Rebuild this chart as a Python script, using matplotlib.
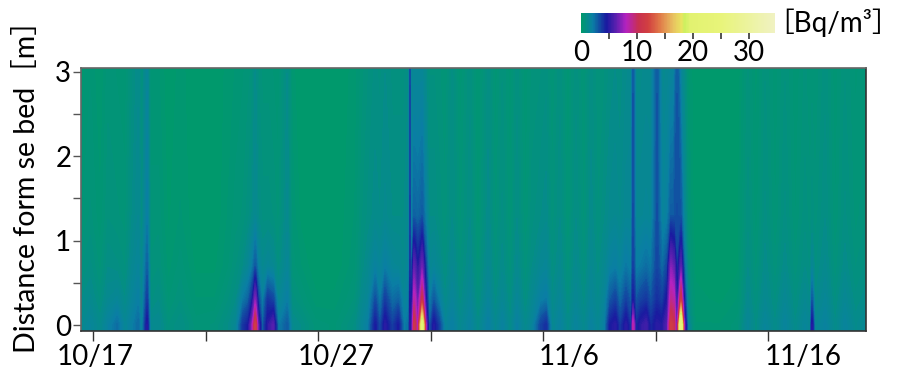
import numpy as np
import matplotlib
matplotlib.use('Agg')
import matplotlib.pyplot as plt
import matplotlib.dates as mdates
import pandas as pd
from matplotlib.colors import LinearSegmentedColormap, Normalize
from matplotlib.cm import ScalarMappable
from matplotlib.transforms import ScaledTranslation

FAM = ['Lato', 'Noto Sans CJK JP', 'DejaVu Sans']
plt.rcParams['font.family'] = FAM

# ---------------- data ----------------
times = [
    "2020-10-16 11:00", "2020-10-16 21:00", "2020-10-17 07:30", "2020-10-17 16:00", "2020-10-18 01:30",
    "2020-10-18 10:00", "2020-10-18 17:30", "2020-10-19 00:00", "2020-10-19 04:00", "2020-10-19 09:30",
    "2020-10-19 13:00", "2020-10-19 21:30", "2020-10-20 08:00", "2020-10-20 21:00", "2020-10-21 13:00",
    "2020-10-22 10:00", "2020-10-23 00:00", "2020-10-23 08:30", "2020-10-23 16:00", "2020-10-23 21:30",
    "2020-10-24 01:30", "2020-10-24 05:00", "2020-10-24 08:00", "2020-10-24 12:30", "2020-10-24 18:30",
    "2020-10-25 00:00", "2020-10-25 05:30", "2020-10-25 15:00", "2020-10-25 20:00", "2020-10-26 05:00",
    "2020-10-26 21:00", "2020-10-27 18:00", "2020-10-28 15:30", "2020-10-28 23:00", "2020-10-29 05:30",
    "2020-10-29 13:00", "2020-10-29 18:00", "2020-10-29 23:30", "2020-10-30 07:00", "2020-10-30 13:30",
    "2020-10-30 19:30", "2020-10-31 01:00", "2020-10-31 02:00", "2020-10-31 03:00", "2020-10-31 06:30",
    "2020-10-31 10:30", "2020-10-31 15:00", "2020-10-31 19:00", "2020-10-31 22:30", "2020-11-01 03:30",
    "2020-11-01 09:00", "2020-11-01 15:30", "2020-11-01 23:00", "2020-11-02 07:30", "2020-11-02 18:00",
    "2020-11-03 02:30", "2020-11-03 13:30", "2020-11-03 21:00", "2020-11-04 04:30", "2020-11-04 13:00",
    "2020-11-04 20:00", "2020-11-05 05:00", "2020-11-05 12:30", "2020-11-05 22:00", "2020-11-06 03:00",
    "2020-11-06 09:30", "2020-11-06 18:00", "2020-11-07 02:30", "2020-11-07 11:00", "2020-11-07 19:30",
    "2020-11-08 03:00", "2020-11-08 10:30", "2020-11-08 18:00", "2020-11-08 23:30", "2020-11-09 05:00",
    "2020-11-09 10:00", "2020-11-09 16:30", "2020-11-09 22:00", "2020-11-10 00:00", "2020-11-10 03:00",
    "2020-11-10 08:30", "2020-11-10 14:00", "2020-11-10 19:00", "2020-11-11 01:30", "2020-11-11 07:00",
    "2020-11-11 12:30", "2020-11-11 16:30", "2020-11-11 19:30", "2020-11-11 23:00", "2020-11-12 03:00",
    "2020-11-12 06:30", "2020-11-12 10:30", "2020-11-12 18:00", "2020-11-13 21:00", "2020-11-14 16:00",
    "2020-11-15 02:30", "2020-11-15 11:00", "2020-11-15 21:00", "2020-11-16 07:30", "2020-11-16 18:00",
    "2020-11-17 05:00", "2020-11-17 15:30", "2020-11-17 21:00", "2020-11-17 23:00", "2020-11-18 02:00",
    "2020-11-18 13:00", "2020-11-18 23:30", "2020-11-19 10:00", "2020-11-19 21:00", "2020-11-20 08:30",
]

heights_m = [0.0, 0.3, 0.7, 1.3, 3.1]

conc_0m = [
    1.2, 1.6, 1.1, 1.8, 2.5, 1.4, 2.0, 2.6, 1.5, 4.8,
    1.2, 1.3, 0.7, 1.0, 0.5, 0.6, 1.0, 1.4, 3.8, 4.5,
    7.0, 11.5, 6.0, 2.5, 5.0, 6.0, 2.0, 3.0, 1.2, 1.0,
    0.5, 0.4, 0.9, 1.5, 2.0, 4.5, 3.0, 5.0, 3.5, 4.5,
    2.0, 2.5, 5.0, 3.0, 11.0, 7.0, 21.0, 7.0, 2.5, 4.8,
    3.5, 1.5, 2.0, 1.2, 1.8, 1.0, 2.0, 1.2, 1.8, 1.0,
    1.9, 1.1, 1.6, 3.5, 4.0, 1.2, 1.8, 1.0, 1.7, 1.1,
    1.8, 1.3, 2.0, 4.5, 5.0, 3.5, 5.0, 3.5, 8.5, 4.0,
    5.0, 5.5, 4.0, 5.0, 4.8, 6.0, 11.5, 10.5, 5.0, 24.0,
    6.5, 1.5, 0.3, 0.3, 0.5, 1.5, 0.9, 1.6, 1.0, 1.7,
    1.0, 1.6, 1.3, 4.8, 1.3, 1.8, 1.0, 1.7, 1.1, 1.4,
]
conc_03m = [
    1.0, 1.2, 0.8, 1.3, 1.5, 1.0, 1.6, 2.0, 1.2, 3.6,
    0.8, 1.0, 0.4, 0.7, 0.3, 0.3, 0.7, 1.0, 2.2, 2.8,
    4.0, 7.0, 3.5, 1.8, 3.8, 3.4, 1.3, 2.0, 0.8, 0.6,
    0.2, 0.2, 0.6, 1.2, 1.5, 3.2, 2.0, 3.6, 2.5, 2.8,
    1.5, 2.0, 4.5, 2.5, 8.5, 6.0, 10.5, 4.5, 1.8, 3.0,
    2.0, 1.0, 1.6, 0.9, 1.5, 0.7, 1.6, 0.9, 1.4, 0.8,
    1.5, 0.8, 1.3, 2.0, 2.2, 1.0, 1.5, 0.8, 1.4, 0.9,
    1.5, 1.1, 1.6, 3.0, 3.5, 2.5, 3.5, 2.8, 4.5, 3.0,
    3.5, 3.8, 3.0, 4.0, 3.5, 4.8, 9.0, 8.5, 4.0, 11.0,
    4.0, 1.0, 0.2, 0.1, 0.3, 1.2, 0.7, 1.3, 0.8, 1.4,
    0.8, 1.3, 1.0, 3.0, 1.0, 1.5, 0.8, 1.4, 0.9, 1.1,
]
conc_07m = [
    0.7, 0.9, 0.5, 1.0, 0.9, 0.7, 1.3, 1.6, 1.0, 2.8,
    0.6, 0.7, 0.2, 0.5, 0.1, 0.1, 0.4, 0.7, 1.0, 1.4,
    2.0, 3.0, 1.8, 1.2, 1.5, 1.3, 0.8, 1.5, 0.5, 0.3,
    0.0, 0.0, 0.4, 0.9, 1.2, 1.8, 1.5, 2.0, 1.5, 1.4,
    1.2, 1.6, 3.8, 1.8, 6.2, 4.5, 6.5, 3.2, 1.3, 1.5,
    1.2, 0.8, 1.3, 0.7, 1.2, 0.5, 1.3, 0.7, 1.1, 0.6,
    1.2, 0.6, 1.0, 1.4, 1.5, 0.8, 1.2, 0.6, 1.2, 0.7,
    1.3, 0.9, 1.3, 1.8, 2.0, 1.6, 2.2, 1.9, 3.5, 2.0,
    2.2, 2.5, 2.2, 3.4, 2.5, 3.4, 7.0, 6.2, 3.4, 6.0,
    2.5, 0.7, 0.1, 0.0, 0.1, 1.0, 0.5, 1.1, 0.6, 1.1,
    0.6, 1.0, 0.8, 1.4, 0.8, 1.2, 0.6, 1.1, 0.7, 0.9,
]
conc_13m = [
    0.4, 0.6, 0.3, 0.7, 0.6, 0.5, 1.0, 1.3, 0.8, 2.0,
    0.5, 0.5, 0.1, 0.3, 0.0, 0.0, 0.3, 0.5, 0.6, 0.8,
    1.0, 1.3, 1.0, 0.8, 0.8, 0.7, 0.5, 1.2, 0.4, 0.1,
    0.0, 0.0, 0.3, 0.7, 0.9, 1.1, 1.0, 1.2, 1.0, 1.0,
    1.0, 1.3, 3.5, 1.5, 2.8, 2.6, 3.0, 1.8, 1.0, 1.0,
    0.8, 0.6, 1.0, 0.5, 1.0, 0.3, 1.1, 0.5, 0.9, 0.4,
    1.0, 0.4, 0.8, 1.0, 1.1, 0.6, 1.0, 0.4, 1.0, 0.5,
    1.1, 0.7, 1.0, 1.2, 1.3, 1.1, 1.4, 1.4, 3.2, 1.4,
    1.4, 1.5, 1.4, 3.2, 1.6, 1.9, 3.0, 3.0, 3.2, 3.0,
    1.4, 0.5, 0.0, 0.0, 0.1, 0.8, 0.3, 0.9, 0.4, 0.9,
    0.4, 0.8, 0.6, 0.8, 0.6, 1.0, 0.4, 0.9, 0.5, 0.7,
]
conc_31m = [
    0.2, 0.4, 0.1, 0.5, 0.4, 0.3, 0.8, 1.1, 0.6, 1.5,
    0.3, 0.3, 0.0, 0.2, 0.0, 0.0, 0.2, 0.3, 0.4, 0.5,
    0.6, 1.0, 0.7, 0.5, 0.5, 0.4, 0.3, 1.0, 0.2, 0.0,
    0.0, 0.0, 0.2, 0.5, 0.7, 0.9, 0.8, 1.0, 0.8, 0.8,
    0.8, 1.0, 3.3, 1.1, 1.4, 1.4, 1.4, 1.0, 0.7, 0.7,
    0.6, 0.4, 0.9, 0.3, 0.8, 0.2, 0.9, 0.3, 0.7, 0.3,
    0.8, 0.3, 0.6, 0.7, 0.8, 0.4, 0.8, 0.3, 0.8, 0.4,
    0.9, 0.6, 0.7, 0.9, 1.0, 0.9, 1.1, 1.2, 3.0, 1.1,
    1.1, 1.2, 1.2, 3.0, 1.2, 1.3, 1.5, 1.6, 3.0, 1.5,
    1.0, 0.3, 0.0, 0.0, 0.0, 0.6, 0.2, 0.7, 0.3, 0.7,
    0.3, 0.6, 0.4, 0.5, 0.4, 0.8, 0.3, 0.7, 0.4, 0.5,
]

cbar_max = 34.6
cbar_ticks = [0, 5, 10, 15, 20, 25, 30]
cbar_labels = ["0", "", "10", "", "20", "", "30"]

x_label_dates = ["2020-10-17", "2020-10-27", "2020-11-06", "2020-11-16"]
x_label_texts = ["10/17", "10/27", "11/6", "11/16"]
x_minor_dates = ["2020-10-22", "2020-11-01", "2020-11-11"]
x_label_shift_px = [2, 18, 26, 35]
x_range = ["2020-10-16 11:00", "2020-11-20 08:30"]
y_range = [-0.07, 3.044]

# colormap stops (value, colour)
cmap_stops = [
    (0.0, "#00996c"), (2.0, "#0a7fa4"), (4.5, "#1a1aa0"), (6.3, "#6020b0"),
    (8.0, "#b422c0"), (10.2, "#c83050"), (12.0, "#d24040"), (14.0, "#e07848"),
    (16.4, "#e8c060"), (17.9, "#e8e460"), (18.5, "#cdf060"), (19.5, "#e2f270"),
    (25.0, "#e8f47a"), (34.6, "#f0f2c2"),
]

# ---------------- figure ----------------
cmap = LinearSegmentedColormap.from_list(
    "rn", [(v / cbar_max, c) for v, c in cmap_stops])
norm = Normalize(0, cbar_max)

fig = plt.figure(figsize=(9.04, 3.72), dpi=100)
ax = fig.add_axes([81 / 904, 1 - 331 / 372, 785 / 904, 263 / 372])

t = mdates.date2num(pd.to_datetime(times).to_pydatetime())
Z = np.array([conc_0m, conc_03m, conc_07m, conc_13m, conc_31m])
h = np.array(heights_m)
# extend the bed row down to the lower edge of the frame
H = np.concatenate([[y_range[0]], h])
ZZ = np.vstack([Z[0], Z])

levels = np.linspace(0, cbar_max, 240)
cs = ax.contourf(t, H, ZZ, levels=levels, cmap=cmap, norm=norm, extend='both')
cs.set_edgecolor('face')
cs.set_linewidth(0.4)

xr = mdates.date2num(pd.to_datetime(x_range).to_pydatetime())
ax.set_xlim(xr[0], xr[1])
ax.set_ylim(*y_range)

# x ticks
maj = mdates.date2num(pd.to_datetime(x_label_dates).to_pydatetime())
mnr = mdates.date2num(pd.to_datetime(x_minor_dates).to_pydatetime())
ax.set_xticks(maj)
ax.set_xticklabels(x_label_texts)
ax.set_xticks(mnr, minor=True)
ax.tick_params(axis='x', which='both', length=7.5, width=1, color='#333333',
               direction='out', labelsize=20, pad=2)
for lab, dx in zip(ax.get_xticklabels(), x_label_shift_px):
    lab.set_transform(lab.get_transform() + ScaledTranslation(dx / 100, 0, fig.dpi_scale_trans))

# y ticks
ax.set_yticks([0, 1, 2, 3])
ax.set_yticks([0.5, 1.5, 2.5], minor=True)
ax.tick_params(axis='y', which='both', length=6, width=1, color='#555555',
               direction='out', labelsize=20, pad=1)
ax.set_ylabel("Distance form se bed［m］", fontsize=20.5)
ax.yaxis.set_label_coords(-0.052, 0.575)

for s in ax.spines.values():
    s.set_color('#666666')
    s.set_linewidth(1.2)
ax.spines['bottom'].set_color('#333333')
ax.spines['right'].set_color('#333333')

# colour bar
cax = fig.add_axes([581 / 904, 1 - 33 / 372, 194 / 904, 20 / 372])
cb = fig.colorbar(ScalarMappable(norm=norm, cmap=cmap), cax=cax, orientation='horizontal')
cb.outline.set_visible(False)
cb.set_ticks(cbar_ticks)
cb.set_ticklabels(cbar_labels)
cax.tick_params(axis='x', length=4, width=1.2, color='#333333', labelsize=20, pad=1)
cax.xaxis.get_major_ticks()[0].tick1line.set_visible(False)
fig.text(766 / 904, 1 - 23 / 372, "［Bq/m³］", fontsize=20, ha='left', va='center', family=FAM)

fig.savefig("out.png", dpi=100)
